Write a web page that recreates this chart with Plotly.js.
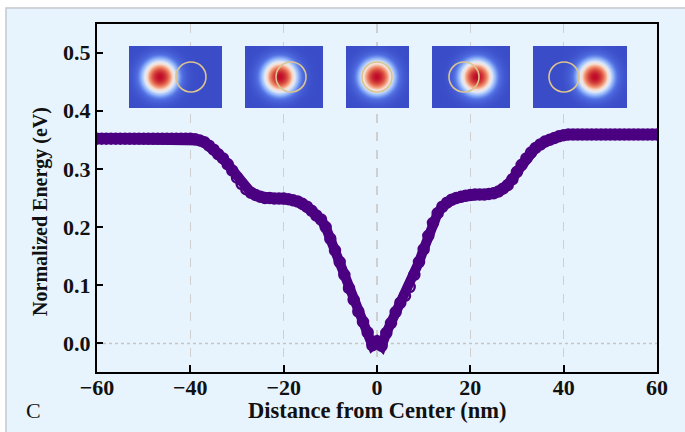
<!DOCTYPE html>
<html>
<head>
<meta charset="utf-8">
<script src="https://cdn.plot.ly/plotly-3.0.1.min.js"></script>
<style>html,body{margin:0;padding:0;background:#fff;}#chart{width:685px;height:432px;}</style>
</head>
<body>
<div id="chart"></div>
<script>
// ---- data ----
const distance = [
 -60,-59,-58,-57,-56,-55,-54,-53,-52,-51,-50,-49,-48,-47,-46,-45,-44,-43,-42,-41,
 -40,-39,-38,-37,-36,-35,-34,-33,-32,-31,-30,-29,-28,-27,-26,-25,-24,-23,-22,-21,
 -20,-19,-18,-17,-16,-15,-14,-13,-12,-11,-10,-9,-8,-7,-6,-5,-4,-3,-2,-1,
 0,1,2,3,4,5,6,7,8,9,10,11,12,13,14,15,16,17,18,19,
 20,21,22,23,24,25,26,27,28,29,30,31,32,33,34,35,36,37,38,39,
 40,41,42,43,44,45,46,47,48,49,50,51,52,53,54,55,56,57,58,59,60
];
const energy = [
 0.352,0.352,0.352,0.352,0.352,0.352,0.352,0.352,0.352,0.352,0.352,0.352,0.352,0.352,0.352,0.352,0.352,0.352,0.352,0.352,
 0.352,0.351,0.349,0.346,0.340,0.333,0.325,0.318,0.308,0.297,0.285,0.274,0.265,0.259,0.255,0.252,0.250,0.250,0.249,0.249,
 0.249,0.248,0.246,0.244,0.240,0.235,0.228,0.220,0.213,0.200,0.180,0.160,0.140,0.118,0.095,0.075,0.055,0.037,0.019,-0.003,
 0.004,-0.004,0.018,0.035,0.054,0.070,0.082,0.097,0.118,0.140,0.162,0.185,0.207,0.224,0.235,0.242,0.247,0.250,0.252,0.254,
 0.255,0.256,0.256,0.256,0.257,0.258,0.261,0.266,0.272,0.282,0.295,0.307,0.318,0.328,0.336,0.342,0.347,0.350,0.353,0.356,
 0.358,0.359,0.359,0.359,0.359,0.359,0.359,0.359,0.359,0.359,0.359,0.359,0.359,0.359,0.359,0.359,0.359,0.359,0.359,0.359,0.359
];
const xTicks = [-60,-40,-20,0,20,40,60];
const yTicks = [0.0,0.1,0.2,0.3,0.4,0.5];

// inset snapshots (pixel units inside each inset)
const insetWidth   = [93, 78, 63, 78, 94];
const insetHeight  = 62;
const blobCenterX  = [31, 35, 31, 45, 62];
const ringCenterX  = [62, 46, 31, 32, 31];
const insetDomainX = [[0.0571,0.2232],[0.2643,0.4036],[0.4446,0.5571],[0.5982,0.7375],[0.7786,0.9464]];
const insetDomainY = [0.7586, 0.9368];

const serif = "Liberation Serif, Times New Roman, serif";
const coolwarm = [
  [0.0,'rgb(58,76,200)'],[0.12,'rgb(80,110,225)'],[0.25,'rgb(150,185,252)'],
  [0.38,'rgb(225,232,245)'],[0.5,'rgb(246,222,210)'],[0.62,'rgb(244,160,128)'],
  [0.78,'rgb(222,90,70)'],[1.0,'rgb(190,10,40)']
];

const traces = [{
  x: distance, y: energy, type: 'scatter', mode: 'lines+markers',
  line: {color: '#4b0082', width: 10},
  marker: {symbol: 'circle-open', size: 10, color: '#4b0082', line: {width: 2.5, color: '#4b0082'}},
  hoverinfo: 'skip', showlegend: false, cliponaxis: true
}, {
  // carrier for the tick-label axis (invisible)
  x: distance, y: energy, type: 'scatter', mode: 'markers', xaxis: 'x7', yaxis: 'y',
  marker: {opacity: 0, size: 1}, hoverinfo: 'skip', showlegend: false
}];

const layout = {
  width: 685, height: 432,
  margin: {l: 97, r: 28, t: 24, b: 60},
  paper_bgcolor: '#ffffff',
  plot_bgcolor: 'rgba(0,0,0,0)',
  showlegend: false,
  xaxis: {
    range: [-60, 60], tickvals: xTicks, ticks: 'inside', ticklen: 7, tickwidth: 2, tickcolor: '#000',
    showline: true, mirror: true, linecolor: '#000', linewidth: 2, showticklabels: false,
    showgrid: true, gridcolor: '#cfcfcf', griddash: 'dash', gridwidth: 1.2, zeroline: false
  },
  xaxis7: {
    overlaying: 'x', anchor: 'free', position: 0, side: 'bottom',
    range: [-60, 60], tickvals: xTicks, ticks: '', showline: false, showgrid: false, zeroline: false,
    tickfont: {family: serif, size: 22, color: '#111', weight: 'bold'}
  },
  yaxis: {
    range: [-0.049, 0.549], tickvals: yTicks, tickformat: '.1f', ticks: 'inside', ticklen: 6, tickwidth: 2, tickcolor: '#000',
    showline: true, mirror: true, linecolor: '#000', linewidth: 2,
    showgrid: false, zeroline: false,
    tickfont: {family: serif, size: 22, color: '#111', weight: 'bold'}
  },
  shapes: [
    {type: 'rect', xref: 'paper', yref: 'paper', x0: -0.1625, x1: 1.08, y0: 1.046, y1: -0.2,
     fillcolor: '#e8f4fd', line: {color: '#c4c8cc', width: 1.5}, layer: 'below'},
    {type: 'line', xref: 'paper', yref: 'y', x0: 0, x1: 1, y0: 0, y1: 0,
     line: {color: '#c4c4c4', width: 1.5, dash: 'dot'}, layer: 'below'}
  ],
  annotations: [
    {text: 'C', xref: 'paper', yref: 'paper', x: -0.13, y: -0.11, xanchor: 'left', yanchor: 'middle',
     showarrow: false, font: {family: serif, size: 22, color: '#111'}},
    {text: 'Distance from Center (nm)', xref: 'paper', yref: 'paper', x: 0.5, y: -0.11,
     xanchor: 'center', yanchor: 'middle', showarrow: false,
     font: {family: serif, size: 22.5, color: '#111', weight: 'bold'}},
    {text: 'Normalized Energy (eV)', xref: 'paper', yref: 'paper', x: -0.1, y: 0.46, textangle: -90,
     xanchor: 'center', yanchor: 'middle', showarrow: false,
     font: {family: serif, size: 20, color: '#111', weight: 'bold'}}
  ]
};

for (let i = 0; i < insetWidth.length; i++) {
  const n = i + 2, w = insetWidth[i], h = insetHeight;
  const xs = [], ys = [], z = [];
  for (let px = 0.5; px < w; px += 1) xs.push(px);
  for (let py = 0.5; py < h; py += 1) ys.push(py);
  const cy = h / 2, sig = 11;
  for (const py of ys) {
    const row = [];
    for (const px of xs) {
      const r2 = (px - blobCenterX[i]) ** 2 + (py - cy) ** 2;
      row.push(Math.exp(-r2 / (2 * sig * sig)));
    }
    z.push(row);
  }
  traces.push({
    type: 'heatmap', x: xs, y: ys, z: z, xaxis: 'x' + n, yaxis: 'y' + n,
    colorscale: coolwarm, zmin: 0, zmax: 1, showscale: false, hoverinfo: 'skip'
  });
  layout['xaxis' + n] = {domain: insetDomainX[i], range: [0, w], visible: false, fixedrange: true, anchor: 'y' + n};
  layout['yaxis' + n] = {domain: insetDomainY, range: [0, h], visible: false, fixedrange: true, anchor: 'x' + n};
  layout.shapes.push({
    type: 'circle', xref: 'x' + n, yref: 'y' + n,
    x0: ringCenterX[i] - 15, x1: ringCenterX[i] + 15, y0: cy - 15, y1: cy + 15,
    line: {color: '#dcc48e', width: 1.6}, layer: 'above'
  });
}

Plotly.newPlot('chart', traces, layout, {staticPlot: true, displayModeBar: false});
</script>
</body>
</html>
